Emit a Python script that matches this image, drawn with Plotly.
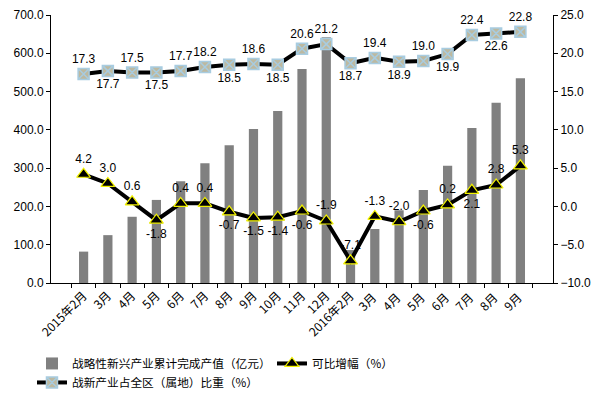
import plotly.graph_objects as go

categories = ["2015年2月", "3月", "4月", "5月", "6月", "7月", "8月", "9月", "10月", "11月", "12月",
              "2016年2月", "3月 ", "4月 ", "5月 ", "6月 ", "7月 ", "8月 ", "9月 "]
output_value = [82, 125, 173, 217, 266, 313, 360, 402, 449, 559, 642,
                86, 141, 190, 243, 306, 405, 471, 535]
growth = [4.2, 3.0, 0.6, -1.8, 0.4, 0.4, -0.7, -1.5, -1.4, -0.6, -1.9,
          -7.1, -1.3, -2.0, -0.6, 0.2, 2.1, 2.8, 5.3]
share = [17.3, 17.7, 17.5, 17.5, 17.7, 18.2, 18.5, 18.6, 18.5, 20.6, 21.2,
         18.7, 19.4, 18.9, 19.0, 19.9, 22.4, 22.6, 22.8]
growth_pos = ["top center", "top center", "top center", "bottom center", "top center", "top center",
              "bottom center", "bottom center", "bottom center", "bottom center", "top center",
              "top center", "top center", "top center", "bottom center", "top center",
              "bottom center", "top center", "top center"]
share_pos = ["top center", "bottom center", "top center", "bottom center", "top center", "top center",
             "bottom center", "top center", "bottom center", "top center", "top center",
             "bottom center", "top center", "bottom center", "top center", "bottom center",
             "top center", "bottom center", "top center"]

num_font = "Liberation Sans, Arial, sans-serif"
cjk_font = "Noto Sans CJK SC, sans-serif"

fig = go.Figure()
fig.add_trace(go.Bar(
    x=categories, y=output_value, name="战略性新兴产业累计完成产值（亿元）",
    marker=dict(color="#808080", line=dict(width=0)), width=0.38,
))
fig.add_trace(go.Scatter(
    x=categories, y=growth, name="可比增幅（%）", yaxis="y2",
    mode="lines+markers+text",
    line=dict(color="black", width=4),
    marker=dict(symbol="triangle-up", size=12, color="black", line=dict(color="#F2F200", width=1.2)),
    text=[f"{v:.1f}" for v in growth], textposition=growth_pos,
    textfont=dict(family=num_font, size=12, color="black"),
    cliponaxis=False,
))
fig.add_trace(go.Scatter(
    x=categories, y=share, name="战新产业占全区（属地）比重（%）", yaxis="y2",
    mode="lines+markers+text",
    line=dict(color="black", width=4),
    marker=dict(symbol="square-x", size=11, color="#BDB9A0", line=dict(color="#A8CCE0", width=1.5)),
    text=[f"{v:.1f}" for v in share], textposition=share_pos,
    textfont=dict(family=num_font, size=12, color="black"),
    cliponaxis=False,
))

fig.update_layout(
    width=592, height=391,
    margin=dict(l=43, r=47, t=7, b=116, autoexpand=False),
    paper_bgcolor="white", plot_bgcolor="white",
    bargap=0.6,
    showlegend=True,
    legend=dict(
        orientation="h", xref="container", yref="container",
        x=0.0405, xanchor="left", y=0.128, yanchor="top",
        font=dict(family=cjk_font, size=11.7, color="black"),
        entrywidth=195, entrywidthmode="pixels",
        itemwidth=30, tracegroupgap=0,
    ),
    xaxis=dict(
        type="category", tickangle=-45, showgrid=False, automargin=False,
        showline=True, linecolor="black", linewidth=1,
        ticks="outside", ticklen=4, tickcolor="black", tickson="boundaries",
        tickfont=dict(family=cjk_font, size=12, color="black"),
    ),
    yaxis=dict(
        range=[0, 700], dtick=100, tickformat=".1f", showgrid=False, zeroline=False,
        showline=True, linecolor="black", linewidth=1, automargin=False,
        ticks="outside", ticklen=4, tickcolor="black",
        tickfont=dict(family=num_font, size=12, color="black"),
    ),
    yaxis2=dict(
        range=[-10, 25], dtick=5, tickformat=".1f", overlaying="y", side="right",
        showgrid=False, zeroline=False, automargin=False,
        showline=True, linecolor="black", linewidth=1,
        ticks="outside", ticklen=4, tickcolor="black",
        tickfont=dict(family=num_font, size=12, color="black"),
    ),
)

fig.write_html("out.html")
